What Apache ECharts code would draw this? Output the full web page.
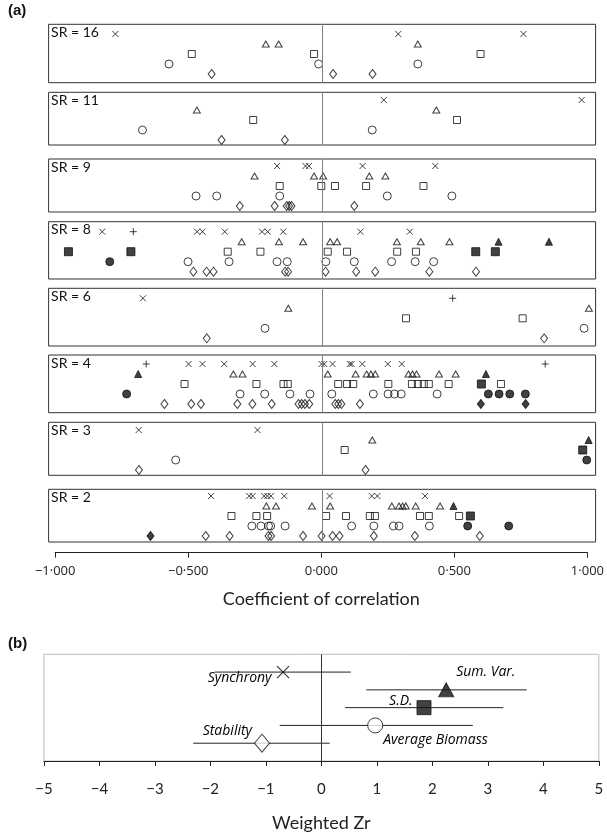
<!DOCTYPE html>
<html><head><meta charset="utf-8">
<script src="https://cdn.jsdelivr.net/npm/echarts@6/dist/echarts.min.js"></script>
<style>html,body{margin:0;padding:0;background:#fff}#c{width:607px;height:833px}</style>
</head><body><div id="c"></div>
<script>
// ---------- DATA ----------
const srLabels = [16, 11, 9, 8, 6, 4, 3, 2];
// one inner array per SR panel, in the order of srLabels
const crossVals = [
  [-0.771, 0.284, 0.751],
  [0.230, 0.968],
  [-0.168, -0.062, -0.049, 0.151, 0.422],
  [-0.820, -0.466, -0.446, -0.363, -0.224, -0.203, -0.145, 0.143, 0.327],
  [-0.668],
  [-0.498, -0.446, -0.365, -0.259, -0.178, -0.002, 0.008, 0.039, 0.103, 0.110, 0.150, 0.245, 0.297],
  [-0.684, -0.241],
  [-0.414, -0.272, -0.259, -0.216, -0.204, -0.191, -0.141, 0.028, 0.185, 0.206, 0.384]
];
const plusVals = [[], [], [], [-0.704], [0.487], [-0.656, 0.832], [], []];
const triOpenVals = [
  [-0.210, -0.162, 0.357],
  [-0.467, 0.426],
  [-0.252, -0.030, 0.004, 0.176, 0.236],
  [-0.300, -0.161, -0.071, 0.030, 0.056, 0.279, 0.368, 0.475],
  [-0.126, 0.995],
  [-0.331, -0.297, 0.021, 0.125, 0.166, 0.182, 0.198, 0.322, 0.337, 0.352, 0.436, 0.498],
  [0.187],
  [-0.208, -0.172, -0.038, 0.030, 0.260, 0.287, 0.300, 0.312, 0.349, 0.440]
];
const triFilledVals = [[], [], [], [0.658, 0.846], [], [-0.686, 0.611], [0.994], [0.490]];
const sqOpenVals = [
  [-0.486, -0.030, 0.591],
  [-0.257, 0.503],
  [-0.158, -0.003, 0.048, 0.164, 0.378],
  [-0.352, -0.230, 0.021, 0.093, 0.280, 0.350],
  [0.313, 0.748],
  [-0.513, -0.245, -0.144, -0.128, 0.060, 0.093, 0.116, 0.247, 0.335, 0.357, 0.379, 0.398, 0.472, 0.667],
  [0.084],
  [-0.338, -0.245, -0.205, 0.015, 0.089, 0.178, 0.197, 0.365, 0.398, 0.511]
];
const sqFilledVals = [[], [], [], [-0.946, -0.713, 0.573, 0.646], [], [0.594], [0.972], [0.553]];
const circOpenVals = [
  [-0.571, -0.013, 0.357],
  [-0.670, 0.187],
  [-0.470, -0.393, -0.158, 0.243, 0.484],
  [-0.500, -0.347, -0.168, -0.130, 0.014, 0.120, 0.259, 0.347, 0.416],
  [-0.213, 0.977],
  [-0.306, -0.214, -0.120, -0.045, 0.036, 0.191, 0.246, 0.270, 0.295, 0.429],
  [-0.546],
  [-0.262, -0.228, -0.200, -0.192, -0.138, 0.110, 0.193, 0.266, 0.287, 0.400]
];
const circFilledVals = [[], [], [], [-0.792], [], [-0.729, 0.620, 0.660, 0.700, 0.758], [0.987], [0.543, 0.696]];
const diaOpenVals = [
  [-0.412, 0.041, 0.188],
  [-0.375, -0.139],
  [-0.307, -0.177, -0.132, -0.123, -0.114, 0.120],
  [-0.480, -0.431, -0.405, -0.138, -0.127, 0.013, 0.127, 0.198, 0.400, 0.574],
  [-0.430, 0.828],
  [-0.588, -0.488, -0.452, -0.316, -0.260, -0.188, -0.088, -0.076, -0.064, -0.048, 0.049, 0.060, 0.072, 0.141],
  [-0.683, 0.162],
  [-0.434, -0.345, -0.200, -0.190, -0.071, -0.002, 0.039, 0.065, 0.193, 0.346, 0.588]
];
const diaFilledVals = [[], [], [], [], [], [0.592, 0.759], [], [-0.640]];
const corrTicks = [-1, -0.5, 0, 0.5, 1];

// panel (b)
const zNames = ['Synchrony', 'Sum. Var.', 'S.D.', 'Average Biomass', 'Stability'];
const zMean = [-0.69, 2.25, 1.85, 0.97, -1.07];
const zLow = [-1.92, 0.81, 0.43, -0.75, -2.31];
const zHigh = [0.53, 3.70, 3.28, 2.73, 0.15];

// ---------- LAYOUT / STYLE ----------
const LEFT = 48.6, WIDTH = 547;
const boxes = [ // top, bottom, y of first row
  [24.3, 82.7, 34], [92.3, 145, 100], [159, 212, 166], [221.7, 279, 231.7],
  [288.3, 346, 298.3], [355, 412.7, 364], [422.3, 475.3, 430], [489.3, 542, 496]
];
const ROWGAP = 10;
const INK = '#111';
const open = {color: 'rgba(0,0,0,0)', borderColor: INK, borderWidth: 1};
const filled = {color: INK, borderColor: INK, borderWidth: 1};
const markerTypes = [
  {vals: crossVals, row: 1, symbol: 'path://M0,0L10,10M10,0L0,10', size: 6, style: {color: 'none', borderColor: INK, borderWidth: 1}},
  {vals: plusVals, row: 1, symbol: 'path://M5,0L5,10M0,5L10,5', size: 7, style: {color: 'none', borderColor: INK, borderWidth: 1}},
  {vals: triOpenVals, row: 2, symbol: 'triangle', size: [7, 6], style: open},
  {vals: triFilledVals, row: 2, symbol: 'triangle', size: [7, 7], style: filled},
  {vals: sqOpenVals, row: 3, symbol: 'rect', size: 7, style: open},
  {vals: sqFilledVals, row: 3, symbol: 'rect', size: 8, style: filled},
  {vals: circOpenVals, row: 4, symbol: 'circle', size: 8, style: open},
  {vals: circFilledVals, row: 4, symbol: 'circle', size: 8, style: filled},
  {vals: diaOpenVals, row: 5, symbol: 'diamond', size: [7, 9], style: open},
  {vals: diaFilledVals, row: 5, symbol: 'diamond', size: [7, 9], style: filled}
];

const grid = [], xAxis = [], yAxis = [], series = [], graphic = [];
boxes.forEach((b, i) => {
  const [top, bottom, y1] = b;
  const ymin = 1 - (y1 - top) / ROWGAP;
  const ymax = ymin + (bottom - top) / ROWGAP;
  grid.push({left: LEFT, width: WIDTH, top: top, height: bottom - top, show: true,
    borderColor: '#333', borderWidth: 1, backgroundColor: 'transparent'});
  xAxis.push({gridIndex: i, type: 'value', min: -1.02, max: 1.02, show: false});
  yAxis.push({gridIndex: i, type: 'value', min: ymin, max: ymax, inverse: true, show: false});
  series.push({type: 'line', xAxisIndex: i, yAxisIndex: i, data: [], silent: true,
    markLine: {silent: true, symbol: 'none', label: {show: false},
      lineStyle: {color: '#808080', width: 1, type: 'solid'}, data: [{xAxis: 0}]}});
  markerTypes.forEach(m => {
    const v = m.vals[i];
    if (!v.length) return;
    series.push({type: 'scatter', xAxisIndex: i, yAxisIndex: i, symbol: m.symbol, symbolSize: m.size,
      itemStyle: m.style, silent: true, animation: false,
      data: v.map(x => [x, m.row])});
  });
  graphic.push({type: 'text', left: LEFT + 2.5, top: top + 1,
    style: {text: 'SR = ' + srLabels[i], font: '14px Lato', fill: '#111'}});
});

// axis for panel (a)
const fmtA = v => (v < 0 ? '\u2212' : '') + Math.abs(v).toFixed(3).replace('.', '\u00b7');
let gi = grid.length;
grid.push({left: 55.2, width: 536.6, top: 540, height: 12.7, show: false});
xAxis.push({gridIndex: gi, type: 'value', min: corrTicks[0], max: corrTicks[corrTicks.length - 1], interval: 0.5,
  axisLine: {show: true, lineStyle: {color: '#222', width: 1}},
  axisTick: {show: true, length: 5, lineStyle: {color: '#222'}},
  splitLine: {show: false},
  axisLabel: {formatter: fmtA, color: '#222', fontSize: 13, fontFamily: 'Open Sans', margin: 12},
  name: 'Coefficient of correlation', nameLocation: 'middle', nameGap: 37,
  nameTextStyle: {fontSize: 18, fontFamily: 'Lato', color: '#222'}});
yAxis.push({gridIndex: gi, type: 'value', min: 0, max: 1, show: false});
series.push({type: 'scatter', xAxisIndex: gi, yAxisIndex: gi, data: []});

// panel (b)
gi = grid.length;
const fmtB = v => (v < 0 ? '\u2212' + (-v) : '' + v);
grid.push({left: 43.9, width: 554.9, top: 654.3, height: 111.7, show: true,
  borderColor: '#bdbdbd', borderWidth: 1});
xAxis.push({gridIndex: gi, type: 'value', min: -5, max: 5, interval: 1,
  axisLine: {show: true, onZero: false, lineStyle: {color: '#222', width: 1}},
  axisTick: {show: true, length: 5, lineStyle: {color: '#222'}},
  splitLine: {show: false},
  axisLabel: {formatter: fmtB, color: '#222', fontSize: 15, fontFamily: 'Lato', margin: 21},
  name: 'Weighted Zr', nameLocation: 'middle', nameGap: 53,
  nameTextStyle: {fontSize: 18, fontFamily: 'Lato', color: '#222'}});
yAxis.push({gridIndex: gi, type: 'value', min: 0, max: 6, inverse: true, show: false});

series.push({type: 'custom', xAxisIndex: gi, yAxisIndex: gi, silent: true,
  data: zNames.map((n, i) => [zLow[i], zHigh[i], i + 1]),
  renderItem: (params, api) => {
    const a = api.coord([api.value(0), api.value(2)]);
    const b = api.coord([api.value(1), api.value(2)]);
    return {type: 'line', shape: {x1: a[0], y1: a[1], x2: b[0], y2: b[1]},
      style: {stroke: '#222', lineWidth: 1}};
  },
  markLine: {silent: true, symbol: 'none', label: {show: false},
    lineStyle: {color: '#333', width: 1, type: 'solid'}, data: [{xAxis: 0}]}});

const bSym = {
  'Synchrony': {symbol: 'path://M0,0L10,10M10,0L0,10', size: 12, style: {color: 'none', borderColor: '#000', borderWidth: 1.2},
    label: {position: 'left', distance: 3, offset: [0, 6]}},
  'Sum. Var.': {symbol: 'triangle', size: [15, 14], style: filled,
    label: {position: 'right', distance: 2, offset: [0, -18]}},
  'S.D.': {symbol: 'rect', size: 14, style: filled,
    label: {position: 'left', distance: 4, offset: [0, -7]}},
  'Average Biomass': {symbol: 'circle', size: 15, style: {color: '#fff', borderColor: INK, borderWidth: 1},
    label: {position: 'right', distance: 0, offset: [0, 15]}},
  'Stability': {symbol: 'diamond', size: [15, 18], style: {color: '#fff', borderColor: INK, borderWidth: 1},
    label: {position: 'left', distance: 3, offset: [1, -12]}}
};
zNames.forEach((n, i) => {
  const s = bSym[n];
  series.push({type: 'scatter', xAxisIndex: gi, yAxisIndex: gi, silent: true, z: 5,
    symbol: s.symbol, symbolSize: s.size, itemStyle: s.style,
    label: Object.assign({show: true, formatter: n, fontStyle: 'italic', fontSize: 14,
      fontWeight: 500, fontFamily: 'Open Sans', color: '#000', textBorderWidth: 0,
      opacity: 1}, s.label),
    data: [[zMean[i], i + 1]]});
});

graphic.push({type: 'text', left: 8, top: 3, style: {text: '(a)', font: 'bold 15px "Liberation Sans"', fill: '#111'}});
graphic.push({type: 'text', left: 8, top: 636, style: {text: '(b)', font: 'bold 15px "Liberation Sans"', fill: '#111'}});

const chart = echarts.init(document.getElementById('c'), null, {renderer: 'canvas'});
chart.setOption({animation: false, backgroundColor: '#fff', grid, xAxis, yAxis, series, graphic});
</script></body></html>
